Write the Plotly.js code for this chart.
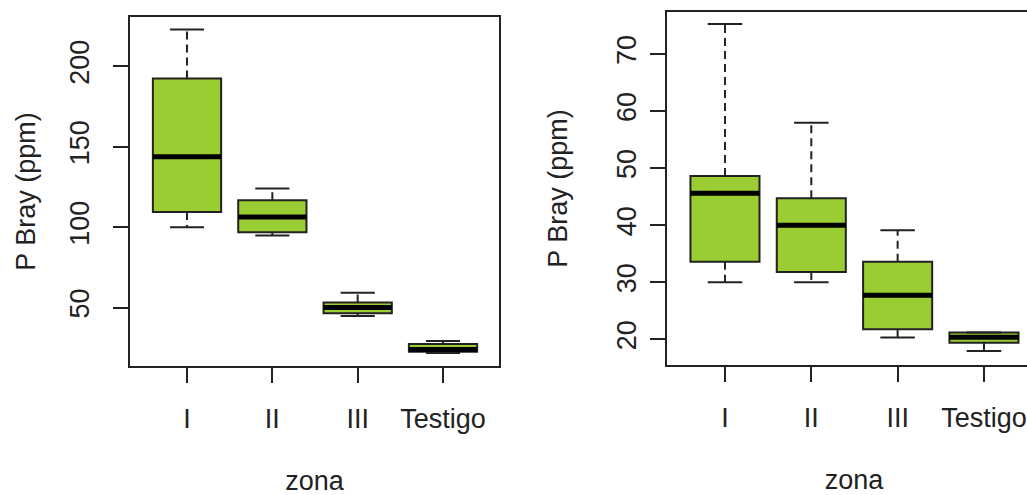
<!DOCTYPE html>
<html>
<head>
<meta charset="utf-8">
<script src="https://cdn.plot.ly/plotly-3.0.1.min.js"></script>
<style>
  html, body { margin: 0; padding: 0; background: #fff; overflow: hidden; }
  #chart { width: 1045px; height: 510px; }
</style>
</head>
<body>
<div id="chart"></div>
<script>
// Categories along the x axis
const zonas = ['I', 'II', 'III', 'Testigo'];
const posiciones = [1, 2, 3, 4];

// Left panel: five-number summaries of P Bray (ppm) per zone
const izqMin    = [100.0, 94.8, 44.8, 21.8];
const izqQ1     = [109.5, 96.9, 46.5, 22.6];
const izqMediana= [143.8, 106.4, 50.0, 24.0];
const izqQ3     = [192.5, 116.8, 53.2, 27.4];
const izqMax    = [223.0, 124.0, 59.3, 29.3];

// Right panel: five-number summaries of P Bray (ppm) per zone
const derMin    = [30.0, 30.0, 20.3, 17.95];
const derQ1     = [33.6, 31.8, 21.75, 19.4];
const derMediana= [45.6, 40.0, 27.7, 20.35];
const derQ3     = [48.6, 44.7, 33.6, 21.2];
const derMax    = [75.25, 57.95, 39.1, 21.2];

const VERDE = '#9ACD32';
const TINTA = '#222222';
const ANCHO_CAJA = 0.8;
const ANCHO_TOPE = 0.4;
const W = 1045, H = 510;
const FUENTE = { family: 'Liberation Sans, Arial, sans-serif', size: 27, color: TINTA };

function segmentos(xs, y0s, y1s, dx0, dx1) {
  const x = [], y = [];
  xs.forEach((p, i) => {
    x.push(p + dx0, p + dx1, null);
    y.push(y0s[i], y1s[i], null);
  });
  return { x, y };
}

function panel(n, mn, q1, med, q3, mx) {
  const xa = n === 1 ? 'x' : 'x2';
  const ya = n === 1 ? 'y' : 'y2';
  const t = [];
  // boxes (whiskers drawn separately, dashed as in base R)
  t.push({
    type: 'box', xaxis: xa, yaxis: ya,
    x: posiciones, q1: q1, median: med, q3: q3,
    lowerfence: q1, upperfence: q3,
    width: ANCHO_CAJA, whiskerwidth: 0, boxpoints: false,
    fillcolor: VERDE, line: { color: TINTA, width: 2 },
    showlegend: false, hoverinfo: 'skip'
  });
  // dashed whisker stems
  const sup = segmentos(posiciones, q3, mx, 0, 0);
  const inf = segmentos(posiciones, q1, mn, 0, 0);
  [sup, inf].forEach(s => t.push({
    type: 'scatter', mode: 'lines', xaxis: xa, yaxis: ya,
    x: s.x, y: s.y, line: { color: TINTA, width: 2, dash: '8px,5px' },
    showlegend: false, hoverinfo: 'skip'
  }));
  // whisker caps
  const tSup = segmentos(posiciones, mx, mx, -ANCHO_TOPE / 2, ANCHO_TOPE / 2);
  const tInf = segmentos(posiciones, mn, mn, -ANCHO_TOPE / 2, ANCHO_TOPE / 2);
  [tSup, tInf].forEach(s => t.push({
    type: 'scatter', mode: 'lines', xaxis: xa, yaxis: ya,
    x: s.x, y: s.y, line: { color: TINTA, width: 2 },
    showlegend: false, hoverinfo: 'skip'
  }));
  // heavy median bars
  const m = segmentos(posiciones, med, med, -ANCHO_CAJA / 2, ANCHO_CAJA / 2);
  t.push({
    type: 'scatter', mode: 'lines', xaxis: xa, yaxis: ya,
    x: m.x, y: m.y, line: { color: '#000', width: 5 },
    showlegend: false, hoverinfo: 'skip'
  });
  return t;
}

const data = [].concat(
  panel(1, izqMin, izqQ1, izqMediana, izqQ3, izqMax),
  panel(2, derMin, derQ1, derMediana, derQ3, derMax)
);

const ejeX = (dom) => ({
  domain: dom, range: [0.332, 4.656],
  tickmode: 'array', tickvals: posiciones, ticktext: zonas,
  ticks: 'outside', ticklen: 15, tickwidth: 2, tickcolor: TINTA,
  ticklabelstandoff: 13,
  showline: true, mirror: true, linecolor: TINTA, linewidth: 2,
  showgrid: false, zeroline: false, tickfont: FUENTE,
  title: { text: 'zona', font: FUENTE, standoff: 38 }
});
const ejeY = (dom, rango, vals, anchor, sepEtiq, sepTitulo) => ({
  domain: dom, range: rango, anchor: anchor,
  tickmode: 'array', tickvals: vals, tickangle: -90,
  ticks: 'outside', ticklen: 15, tickwidth: 2, tickcolor: TINTA,
  ticklabelstandoff: sepEtiq,
  showline: true, mirror: true, linecolor: TINTA, linewidth: 2,
  showgrid: false, zeroline: false, tickfont: FUENTE,
  title: { text: 'P Bray (ppm)', font: FUENTE, standoff: sepTitulo }
});

const layout = {
  width: W, height: H,
  margin: { l: 0, r: 0, t: 0, b: 0 },
  paper_bgcolor: '#fff', plot_bgcolor: '#fff',
  font: FUENTE,
  xaxis: Object.assign(ejeX([130 / W, 499 / W]), { anchor: 'y' }),
  yaxis: ejeY([1 - 366 / H, 1 - 17 / H], [13.7, 230.7], [50, 100, 150, 200], 'x', 13, 22),
  xaxis2: Object.assign(ejeX([667.3 / W, 1040.6 / W]), { anchor: 'y2' }),
  yaxis2: ejeY([1 - 365 / H, 1 - 12 / H], [15.5, 77.35], [20, 30, 40, 50, 60, 70], 'x2', 4, 36),
  showlegend: false
};

Plotly.newPlot('chart', data, layout, { staticPlot: true, displayModeBar: false });
</script>
</body>
</html>
